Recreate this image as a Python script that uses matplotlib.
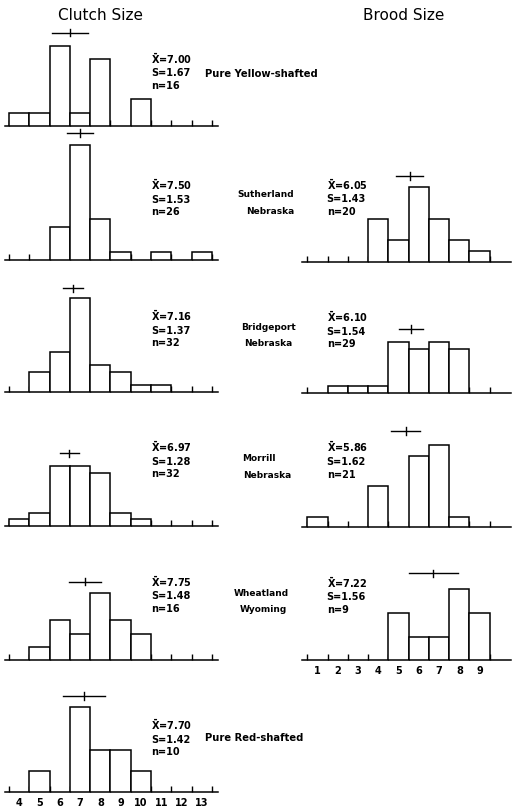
import numpy as np
import matplotlib
matplotlib.use("Agg")
import matplotlib.pyplot as plt

plt.rcParams['font.family'] = ['DejaVu Sans']
plt.rcParams['mathtext.fontset'] = 'dejavusans'

W, H = 512, 808

# ---- data (counts per bin) ----
clutch_bins = np.arange(4, 14)
clutch_counts = [
    [1, 1, 6, 1, 5, 0, 2, 0, 0, 0],    # Pure Yellow-shafted
    [0, 0, 4, 14, 5, 1, 0, 1, 0, 1],   # Sutherland
    [0, 3, 6, 14, 4, 3, 1, 1, 0, 0],   # Bridgeport
    [1, 2, 9, 9, 8, 2, 1, 0, 0, 0],    # Morrill
    [0, 1, 3, 2, 5, 3, 2, 0, 0, 0],    # Wheatland
    [0, 1, 0, 4, 2, 2, 1, 0, 0, 0],    # Pure Red-shafted
]
clutch_mean = ["7.00", "7.50", "7.16", "6.97", "7.75", "7.70"]
clutch_sd = ["1.67", "1.53", "1.37", "1.28", "1.48", "1.42"]
clutch_n = ["16", "26", "32", "32", "16", "10"]
clutch_ci = [0.89, 0.62, 0.49, 0.46, 0.79, 1.02]      # half width of mean bar
clutch_bar_y = [43.6, 59.5, 48.5, 34.0, 36.7, 45.0]   # height of mean bar (%)

brood_bins = np.arange(1, 10)
brood_counts = [
    [0, 0, 0, 4, 2, 7, 4, 2, 1],   # Sutherland
    [0, 1, 1, 1, 7, 6, 7, 6, 0],   # Bridgeport
    [1, 0, 0, 4, 0, 7, 8, 1, 0],   # Morrill
    [0, 0, 0, 0, 2, 1, 1, 3, 2],   # Wheatland
]
brood_mean = ["6.05", "6.10", "5.86", "7.22"]
brood_sd = ["1.43", "1.54", "1.62", "1.56"]
brood_n = ["20", "29", "21", "9"]
brood_ci = [0.67, 0.59, 0.72, 1.21]
brood_bar_y = [40.0, 30.0, 44.9, 40.7]

sites = [("Pure Yellow-shafted",), ("Sutherland", "Nebraska"), ("Bridgeport", "Nebraska"),
         ("Morrill", "Nebraska"), ("Wheatland", "Wyoming"), ("Pure Red-shafted",)]

# ---- layout (pixels) ----
left_base = [126, 260.3, 392, 526, 660.3, 792.3]
right_base = [261.7, 393.3, 527, 660.3]
ax_h = 125
px_per_pct = 2.14
left_x = (5, 218, 3.31, 13.79)
right_x = (302, 511, 0.23, 10.55)

left_stat_y = [60, 186.5, 317.5, 448.5, 583.3, 726.5]
right_stat_y = [186, 318.5, 449, 584]
site_pos = [[(205, 74, 'left')],
            [(266, 194.5, 'center'), (270, 211.5, 'center')],
            [(268, 327, 'center'), (268, 344, 'center')],
            [(258.5, 459, 'center'), (267, 475.5, 'center')],
            [(261.5, 593, 'center'), (263, 610, 'center')],
            [(205, 738, 'left')]]

fig = plt.figure(figsize=(W / 100, H / 100), dpi=100)


def fx(x):
    return x / W


def fy(y):
    return 1 - y / H


def make_axes(base, xinfo):
    x0, x1, lo, hi = xinfo
    ax = fig.add_axes([fx(x0), fy(base), (x1 - x0) / W, ax_h / H])
    ax.set_xlim(lo, hi)
    ax.set_ylim(0, ax_h / px_per_pct)
    for s in ['top', 'left', 'right']:
        ax.spines[s].set_visible(False)
    ax.spines['bottom'].set_linewidth(1.1)
    ax.set_yticks([])
    ax.patch.set_alpha(0)
    return ax


def draw_hist(ax, bins, counts, mean, ci, bar_y, edges, labels=False):
    counts = np.array(counts)
    pct = counts / counts.sum() * 100
    keep = counts > 0
    ax.bar(bins[keep], pct[keep], width=1.0, color='white', edgecolor='black',
           linewidth=1.1, zorder=3)
    m = float(mean) - 0.5
    ax.plot([m - ci, m + ci], [bar_y, bar_y], color='black', lw=1.0, clip_on=False)
    ax.plot([m, m], [bar_y - 1.7, bar_y + 1.7], color='black', lw=1.0, clip_on=False)
    ax.set_xticks(edges)
    ax.tick_params(axis='x', which='major', direction='in', length=4, width=1.0,
                   labelbottom=False)
    if labels:
        ax.set_xticks(bins, minor=True)
        ax.set_xticklabels([str(b) for b in bins], minor=True, fontsize=7,
                           fontweight='bold')
        ax.tick_params(axis='x', which='minor', length=0, pad=4)


def stats(x, y, mean, sd, n):
    step = 12.6
    lines = [r'$\mathbf{\bar{X}}$' + '=' + mean, 'S=' + sd, 'n=' + n]
    for i, s in enumerate(lines):
        fig.text(fx(x), fy(y + 3.5 + i * step), s, fontsize=7, fontweight='bold',
                 ha='left', va='baseline')


for i in range(6):
    ax = make_axes(left_base[i], left_x)
    draw_hist(ax, clutch_bins, clutch_counts[i], clutch_mean[i], clutch_ci[i],
              clutch_bar_y[i], np.arange(3.5, 14), labels=(i == 5))
    stats(151, left_stat_y[i], clutch_mean[i], clutch_sd[i], clutch_n[i])
    size = 7.2 if len(sites[i]) == 1 else 6.5
    for txt, (sx, sy, ha) in zip(sites[i], site_pos[i]):
        fig.text(fx(sx), fy(sy), txt, fontsize=size, fontweight='bold', ha=ha, va='center')

for j in range(4):
    ax = make_axes(right_base[j], right_x)
    draw_hist(ax, brood_bins, brood_counts[j], brood_mean[j], brood_ci[j],
              brood_bar_y[j], np.arange(0.5, 10), labels=(j == 3))
    stats(326.7, right_stat_y[j], brood_mean[j], brood_sd[j], brood_n[j])

fig.text(fx(100), fy(15), "Clutch Size", fontsize=11, ha='center', va='center')
fig.text(fx(404), fy(15), "Brood Size", fontsize=11, ha='center', va='center')

fig.savefig("out.png", dpi=100)
